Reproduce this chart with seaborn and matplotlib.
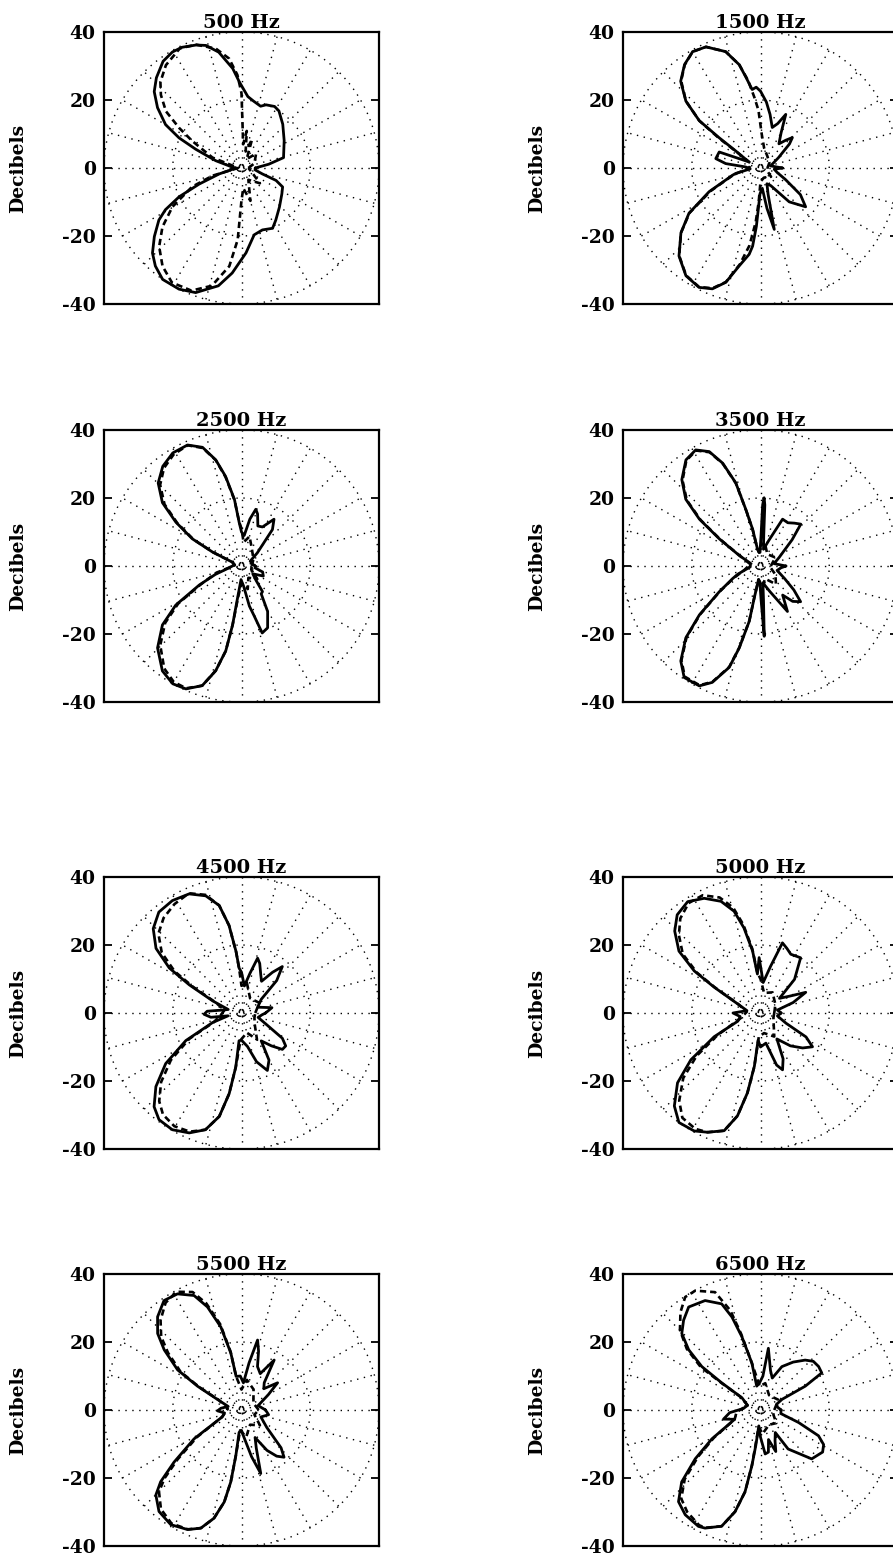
import numpy as np
import matplotlib
matplotlib.use("Agg")
import matplotlib.pyplot as plt
import seaborn as sns

# --- data: polar response (angle in degrees, level in dB) ---
ANG_500_SOLID = [0, 8, 14, 33, 47, 57, 62, 69, 73, 80, 85, 91.5, 95, 101, 106, 110, 116, 120.5, 126, 133,
                 138.5, 144, 150, 154, 157.5, 164, 175, 180, 195, 201, 205, 209, 212.5, 218.5, 224, 229,
                 235, 243, 250, 259, 265, 273, 280.6, 288.5, 297, 303, 314, 327, 335, 340, 344, 352]
R_500_SOLID = [4, 8, 12.6, 14.8, 17.6, 20, 20.5, 19.9, 19, 20, 21.1, 25.4, 29.4, 34.7, 37.5, 38.5, 39.5, 39.6,
               38.8, 36.3, 33.9, 30.2, 25.5, 20.2, 14.4, 7.8, 2.6, 1.5, 6.7, 13.2, 20, 25.3, 28.5, 32.4, 36,
               38.2, 40, 40, 39, 35.3, 31, 25, 20, 19.2, 19.9, 18.3, 15.9, 14, 13.2, 10.7, 6.3, 4]
ANG_500_DASH = [0, 20, 45, 60, 70, 76, 82, 86, 90, 92.5, 96.4, 102, 110, 117, 126, 133, 137.5, 142.8, 147,
                151, 160, 165, 180, 195, 201, 209.6, 217, 224, 231.5, 239, 248, 256, 263, 267, 270, 275, 285,
                300, 320, 340]
R_500_DASH = [2, 4, 6, 3, 9, 5, 11, 7, 22, 27.4, 32.4, 35.9, 38.6, 39.5, 37.4, 34.6, 31.8, 27.6, 21.6, 16.4,
              9, 2.7, 1, 8.7, 15.4, 23.1, 28.8, 33.3, 36.9, 39.3, 38.9, 35.7, 29.1, 21.1, 9.5, 6, 10, 4, 7, 3]

ANG_1500_SOLID = [0, 12, 30, 40, 44, 48, 53, 60, 65, 69, 74, 80, 85, 90, 93, 96, 99, 101.5, 106.5, 114, 120,
                  126, 132.3, 137.8, 142, 143.5, 145, 152, 158.6, 168, 172.7, 176, 185, 192.5, 194.6, 205,
                  212.6, 219.5, 227.5, 235.6, 243, 248.5, 253.3, 257.8, 262.6, 264.3, 266, 269, 275, 279,
                  282.5, 286, 292, 300, 310, 319, 326, 335, 345, 355]
R_1500_SOLID = [6.4, 3, 6, 11, 12.9, 11, 8.9, 12, 17.4, 14, 12.4, 16, 19.5, 22.6, 23.8, 23.2, 27, 31, 35.7,
                39, 39.5, 37.6, 34.5, 29.3, 22.6, 15, 9.1, 3.8, 12.9, 13.3, 10.2, 4.3, 3, 7.4, 8.4, 16.5,
                24.7, 30, 35.1, 38.4, 39.4, 38.2, 35.1, 29.5, 25.6, 23.1, 17.2, 7.5, 6, 12, 18.5, 8, 5, 6,
                13, 17.4, 14, 8, 5, 4]
ANG_1500_DASH = [0, 30, 60, 80, 88, 92, 95, 98, 101.5, 106.5, 114, 120, 126, 132, 137.8, 142, 144, 146,
                 155, 170, 185, 194, 205, 212.6, 219.5, 227.5, 235.6, 243, 248.5, 253.3, 258, 262, 265,
                 267, 270, 290, 320, 340]
R_1500_DASH = [2, 3, 4, 6, 10, 17, 21, 26, 31, 35.7, 39, 39.5, 37.5, 34.5, 29.3, 22.6, 15, 8, 3, 3, 4, 8,
               16, 24.5, 30, 35, 38.3, 39.3, 38, 35, 29, 23, 16, 10, 4, 3, 4, 2]

ANG_2500_SOLID = [0, 15, 30, 40, 50, 55.5, 62, 68, 73, 76, 80, 85, 90, 93, 96, 100, 103.5, 108, 113.8, 121,
                  128, 134.8, 141, 146, 150.8, 154, 157, 170, 190, 198, 204.5, 211, 217, 224.6, 233.3, 240,
                  245.9, 252, 256.3, 259.6, 261.5, 263, 268, 276, 281, 284, 287, 292.7, 299.6, 305, 309,
                  315, 325, 335, 344, 352]
R_2500_SOLID = [4, 3, 3, 6, 14, 16.7, 13, 12.7, 16, 17.2, 14, 9, 10, 12.8, 19.7, 26.8, 32.1, 36.7, 38.9,
                38.8, 37.2, 34.4, 29.6, 23, 16.4, 9.4, 2.9, 2, 4, 8, 13.5, 22.3, 28.8, 34.3, 38.5, 40, 39.6,
                37, 31.7, 25.4, 17.5, 9.6, 4, 6, 12, 15, 20.6, 19.7, 15.4, 10, 9.7, 6, 4, 7, 6.4, 4]
ANG_2500_DASH = [0, 30, 60, 75, 85, 90, 93, 96, 100, 103.5, 108, 113.8, 121, 128, 134.8, 141, 146, 150.8,
                 154, 157, 175, 195, 204.5, 211, 217, 224.6, 233.3, 240, 245.9, 252, 256.3, 259.6, 261.5,
                 264, 270, 285, 300, 320, 340]
R_2500_DASH = [3, 4, 6, 9, 7, 11, 13, 19.5, 26.5, 32, 36.5, 38.8, 38.3, 36.6, 33.6, 28.8, 22.5, 16, 9.2,
               2.9, 2, 7.5, 13, 21.5, 27.8, 33.2, 37.6, 39.4, 39.4, 37, 31.7, 25.4, 17.5, 9, 5, 7, 4, 6, 3]

ANG_3500_SOLID = [0, 10, 25, 40, 46.4, 52, 58, 65, 72, 80, 84, 86, 87, 88, 89, 92, 96, 100, 102, 104.4,
                  106.4, 110, 113.9, 118.9, 124.8, 132, 137.9, 142.2, 146.3, 153.4, 165, 185, 200, 204.5,
                  212.3, 219, 224.2, 230.3, 235.9, 243.2, 247.7, 253, 255.6, 258.6, 259, 262, 268, 271,
                  273, 275, 278, 290, 300.4, 307, 312, 318, 324, 332, 345, 355]
R_3500_SOLID = [7.4, 4, 6, 12, 17, 16, 15, 15.2, 8, 5, 9, 18, 20.1, 18, 9, 4, 4, 5.1, 11.1, 17.2, 25.5,
                32.2, 36.8, 39, 38, 34.2, 29.3, 22.5, 14.4, 6.9, 3, 3, 7, 8.9, 14.2, 22.9, 30.3, 36.3,
                39.6, 39.5, 37, 31.2, 24.9, 16.6, 9.7, 4, 5, 10, 20.7, 10, 5, 8, 15.5, 10.7, 14, 15.7, 12,
                8, 5, 6]
ANG_3500_DASH = [0, 30, 60, 80, 90, 96, 100, 102, 104.4, 106.4, 110, 113.9, 118.9, 124.8, 132, 137.9,
                 142.2, 146.3, 153.4, 170, 195, 204.5, 212.3, 219, 224.2, 230.3, 235.9, 243.2, 247.7, 253,
                 255.6, 258.6, 259, 262, 275, 290, 310, 330, 350]
R_3500_DASH = [3, 5, 4, 7, 6, 4, 5, 11, 17, 25.3, 32, 36.6, 38.8, 37.8, 33.9, 28.9, 22, 14, 6.7, 3, 5,
               8.6, 14, 22.6, 30, 36, 39.3, 39.3, 36.8, 31, 24.7, 16.4, 9.5, 4, 6, 4, 7, 5, 3]

ANG_4500_SOLID = [0, 10, 20, 35, 43, 49, 53, 58, 63.6, 70, 73.8, 78, 84, 90, 93, 95, 98, 101.6, 106.8,
                  113.5, 121.3, 129, 136, 142.6, 147.8, 151.4, 157, 165, 172, 177, 182, 188, 192, 198.5,
                  206.6, 214, 221, 227.3, 232.6, 239.6, 246.7, 253, 258, 261.4, 264, 265, 270, 280, 287,
                  294, 300, 305, 312, 318, 323, 328, 335, 345, 355]
R_4500_SOLID = [7, 9, 5, 7, 14, 18.1, 15, 11, 12.6, 15.5, 16.8, 12, 8, 12, 13.2, 18.1, 26, 32.3, 36,
                38.2, 38.7, 38.2, 35.7, 31.3, 24.8, 17.3, 9.1, 4, 6, 10, 10.9, 9, 4, 8.9, 18.1, 26.6, 33,
                37.5, 39.5, 39.8, 38.4, 35.9, 31.1, 24, 16, 8.2, 8, 10, 15, 18.5, 16, 10, 13, 16, 16.1, 14,
                8, 5, 6]
ANG_4500_DASH = [0, 30, 60, 80, 90, 93, 95, 98, 101.6, 106.8, 113.5, 121.3, 129, 136, 142.6, 147.8, 151.4,
                 157, 170, 185, 198.5, 206.6, 214, 221, 227.3, 232.6, 239.6, 246.7, 253, 258, 261.4, 264,
                 268, 285, 300, 320, 340]
R_4500_DASH = [4, 6, 5, 9, 8, 13, 18, 26, 32.3, 36.3, 38.4, 37.5, 36, 33.6, 29.2, 23, 16, 8.5, 5, 6, 8.5,
               17, 24.8, 31, 35.3, 37.6, 38.6, 38, 35.9, 31.1, 24, 16, 8, 6, 9, 5, 4]

ANG_5000_SOLID = [0, 10, 18, 24.8, 30, 38, 45, 54.3, 63, 68, 72.8, 78, 85, 91.4, 94.5, 97.2, 100.9, 104.4,
                  109.3, 115.9, 122.9, 130, 136, 142.5, 147.3, 150.6, 158, 170, 180, 190, 200, 207.4, 214.2,
                  220.4, 227.5, 233.6, 240.9, 246.3, 253, 257.5, 260.8, 263.5, 265, 270, 280, 287, 291,
                  296, 302, 312, 320, 326.7, 332, 338, 350]
R_5000_SOLID = [6, 5, 10, 14.5, 10, 7, 14, 20, 19.4, 20.5, 21.6, 14, 9, 16.3, 11.5, 18.4, 25.5, 30.9,
                34.8, 37.5, 39, 37.7, 34.7, 29.9, 22.9, 15.5, 7.2, 4, 8, 6, 7, 15.2, 24.5, 31.7, 37.1, 40,
                39.7, 38.3, 36.2, 31, 23.8, 15.8, 8, 10, 9, 16, 17.9, 15, 9, 13, 16, 18.1, 15, 8, 5]
ANG_5000_DASH = [0, 30, 60, 80, 90, 94.5, 97.2, 100.9, 104.4, 109.3, 115.9, 122.9, 130, 136, 142.5, 147.3,
                 150.6, 158, 175, 195, 207.4, 214.2, 220.4, 227.5, 233.6, 240.9, 246.3, 253, 257.5, 260.8,
                 263.5, 266, 280, 300, 320, 340]
R_5000_DASH = [4, 5, 7, 6, 10, 12, 19, 26.5, 32, 36, 38.5, 38.5, 36.3, 33, 28.5, 22, 15, 7, 4, 6, 14,
               22.5, 29.5, 35, 38.3, 39, 38.3, 36.2, 31, 23.8, 15.8, 7, 6, 8, 5, 4]

ANG_5500_SOLID = [0, 15, 30, 37.3, 44, 50.5, 57.1, 63, 70, 74, 77.2, 81, 86, 92, 99, 100.5, 103.8, 108.1,
                  112.3, 118.6, 125, 131.7, 137.3, 141.8, 147.6, 151.3, 156, 165, 175, 182, 190, 200,
                  211.6, 218, 221.9, 225.1, 231.2, 238.6, 246, 251.2, 255.9, 259.5, 261.6, 263, 264, 270,
                  275, 282, 286.7, 291, 296, 302, 307, 311.7, 316, 325, 340, 350]
R_5500_SOLID = [7, 5, 9, 13.2, 9, 10.4, 17.5, 12, 13.6, 18, 21.1, 14, 8, 10, 10, 17, 25.1, 31.9, 36.4,
                38.9, 39.3, 36.7, 33.2, 28.6, 22, 14.6, 7.7, 4, 6, 7, 5, 6, 16.2, 24.9, 31.6, 35.3, 38.3,
                39.5, 38.5, 36.7, 32.8, 27.5, 21.4, 13.5, 6.6, 6, 8, 14, 19.5, 12, 9, 14, 17, 18.6, 16, 9,
                6, 8]
ANG_5500_DASH = [0, 30, 60, 80, 90, 99, 100.5, 103.8, 108.1, 112.3, 118.6, 125, 131.7, 137.3, 141.8,
                 147.6, 151.3, 156, 175, 200, 211.6, 218, 221.9, 225.1, 231.2, 238.6, 246, 251.2, 255.9,
                 259.5, 261.6, 263, 266, 280, 300, 320, 340]
R_5500_DASH = [5, 4, 7, 9, 6, 10, 17.5, 26, 33, 37.5, 39.6, 38.5, 35.4, 31.8, 27.2, 21, 14, 7.2, 4, 6,
               15.2, 23.6, 30.1, 34, 37.4, 39.1, 38.4, 36.7, 32.8, 27.5, 21.4, 13.5, 6, 8, 5, 7, 4]

ANG_6500_SOLID = [0, 10, 20, 26.6, 28.3, 31.5, 37.1, 43, 48.5, 56, 64, 70, 76, 82.8, 86, 92, 98.9, 100.3,
                  104.1, 106.9, 109.9, 116.6, 124.6, 130.3, 135.5, 139.7, 143.2, 144.7, 146.3, 160, 175,
                  185, 194, 200, 211, 217.1, 222.7, 228.5, 234.6, 242.2, 245.1, 251.7, 256.1, 259.4, 261.3,
                  262.5, 264, 270, 276, 280.5, 285, 290, 295, 303, 305, 316, 325.6, 331, 335.8, 341.6, 350]
R_6500_SOLID = [6, 5, 5, 7, 14.8, 20.9, 21.2, 21, 19.6, 17, 14.2, 10, 12, 18.3, 10, 8, 7.1, 14, 22.2,
                28.6, 33.2, 36, 36.8, 34.6, 32.1, 27.4, 21.3, 13.8, 6.5, 4, 5, 9, 11.1, 8, 16.5, 23.8, 31.2,
                36, 37.8, 38.7, 38.3, 36, 30.8, 24.5, 16.5, 10.6, 4.7, 8, 13, 12.6, 9, 13, 10, 7.9, 14,
                20.7, 21.9, 21, 18.5, 11.7, 6]
ANG_6500_DASH = [0, 30, 60, 80, 92, 100.3, 104.1, 106.7, 110.9, 118.4, 123.4, 129, 134.9, 140, 144, 145,
                 146.3, 160, 185, 200, 211, 217.1, 222.7, 228.5, 234.6, 242.2, 245.1, 251.7, 256.1, 259.4,
                 261.3, 264, 275, 300, 320, 340]
R_6500_DASH = [4, 6, 5, 8, 7, 14, 23, 30.6, 37.1, 39.9, 39.8, 37, 33.2, 28, 21.5, 14, 7, 4, 7, 8, 15.8,
               22.8, 30, 34.8, 36.8, 38.3, 38.2, 36, 30.8, 24.5, 16.5, 5, 7, 5, 6, 4]

TITLES = ["500 Hz", "1500 Hz", "2500 Hz", "3500 Hz", "4500 Hz", "5000 Hz", "5500 Hz", "6500 Hz"]
SOLID = [(ANG_500_SOLID, R_500_SOLID), (ANG_1500_SOLID, R_1500_SOLID), (ANG_2500_SOLID, R_2500_SOLID),
         (ANG_3500_SOLID, R_3500_SOLID), (ANG_4500_SOLID, R_4500_SOLID), (ANG_5000_SOLID, R_5000_SOLID),
         (ANG_5500_SOLID, R_5500_SOLID), (ANG_6500_SOLID, R_6500_SOLID)]
DASHED = [(ANG_500_DASH, R_500_DASH), (ANG_1500_DASH, R_1500_DASH), (ANG_2500_DASH, R_2500_DASH),
          (ANG_3500_DASH, R_3500_DASH), (ANG_4500_DASH, R_4500_DASH), (ANG_5000_DASH, R_5000_DASH),
          (ANG_5500_DASH, R_5500_DASH), (ANG_6500_DASH, R_6500_DASH)]

GRID_RADII = [20, 40]
SPOKE_ANGLES = list(range(0, 180, 15))
Y_TICKS = [-40, -20, 0, 20, 40]
R_MAX = 40

# layout in pixels (figure is 893 x 1556)
FIG_W, FIG_H = 893, 1556
COL_LEFT = [104, 623]
ROW_TOP = [32, 430, 877, 1274]
BOX_W, BOX_H = 275, 272


def _closed_xy(ang, r):
    a = np.deg2rad(np.append(ang, ang[0]))
    rr = np.append(r, r[0])
    return rr * np.cos(a), rr * np.sin(a)


def _polar_grid(ax):
    t = np.linspace(0, 2 * np.pi, 361)
    dot = dict(color="black", lw=1.0, linestyle=(0, (1, 4)), zorder=1)
    for rad in GRID_RADII:
        ax.plot(rad * np.cos(t), rad * np.sin(t), **dot)
    for a in SPOKE_ANGLES:
        c, s = np.cos(np.deg2rad(a)), np.sin(np.deg2rad(a))
        ax.plot([-R_MAX * c, R_MAX * c], [-R_MAX * s, R_MAX * s], **dot)


def main() -> None:
    sns.set_style("white")
    plt.rcParams["font.family"] = ["DejaVu Serif"]
    plt.rcParams["font.weight"] = "bold"
    for key in ("text.color", "axes.labelcolor", "xtick.color", "ytick.color", "axes.edgecolor"):
        plt.rcParams[key] = "black"

    fig = plt.figure(figsize=(FIG_W / 100, FIG_H / 100), dpi=100)

    for i, title in enumerate(TITLES):
        row, col = divmod(i, 2)
        left = COL_LEFT[col] / FIG_W
        bottom = 1 - (ROW_TOP[row] + BOX_H) / FIG_H
        ax = fig.add_axes([left, bottom, BOX_W / FIG_W, BOX_H / FIG_H])

        _polar_grid(ax)

        xs, ys = _closed_xy(*SOLID[i])
        sns.lineplot(x=xs, y=ys, ax=ax, sort=False, estimator=None, color="black", lw=2.0, zorder=3)
        xd, yd = _closed_xy(*DASHED[i])
        sns.lineplot(x=xd, y=yd, ax=ax, sort=False, estimator=None, color="black", lw=1.9,
                     linestyle=(0, (2.4, 1.5)), zorder=3)

        ax.set_xlim(-R_MAX, R_MAX)
        ax.set_ylim(-R_MAX, R_MAX)
        ax.set_xticks([])
        ax.set_yticks(Y_TICKS)
        ax.set_yticklabels([str(v) for v in Y_TICKS], fontsize=13.5, fontweight="bold", color="black")
        ax.tick_params(axis="y", direction="in", left=True, right=True, length=6, width=1.3, pad=6,
                       colors="black")
        for sp in ax.spines.values():
            sp.set_visible(True)
            sp.set_color("black")
            sp.set_linewidth(1.6)

        ax.set_title(title, fontsize=14, fontweight="bold", pad=3, color="black")
        ax.set_ylabel("Decibels", fontsize=13.5, fontweight="bold", color="black")
        ax.yaxis.set_label_coords(-0.28, 0.5)

    fig.savefig("out.png", dpi=100)
    plt.close(fig)


if __name__ == "__main__":
    main()
